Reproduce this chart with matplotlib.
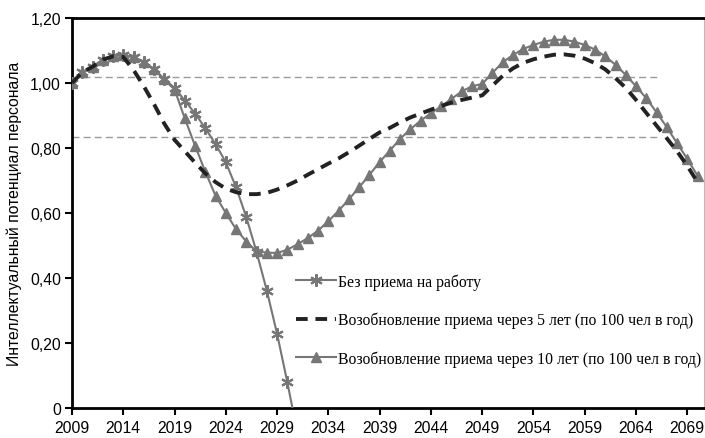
import matplotlib
matplotlib.use("Agg")
import matplotlib.pyplot as plt
from matplotlib.ticker import FuncFormatter, FixedLocator
import numpy as np

# ---- data ----
years_no_hire = list(range(2009, 2032))
no_hire = [1.00, 1.033, 1.05, 1.072, 1.082, 1.087, 1.079, 1.064, 1.043, 1.012,
           0.985, 0.946, 0.906, 0.861, 0.812, 0.756, 0.679, 0.587, 0.480, 0.361,
           0.228, 0.079, -0.08]

years = list(range(2009, 2071))
resume_5 = [1.00, 1.033, 1.05, 1.072, 1.082, 1.080, 1.040, 0.990, 0.935, 0.875,
            0.825, 0.790, 0.755, 0.722, 0.695, 0.675, 0.664, 0.658, 0.658, 0.662,
            0.672, 0.685, 0.700, 0.718, 0.735, 0.752, 0.768, 0.787, 0.807, 0.828,
            0.848, 0.862, 0.879, 0.894, 0.906, 0.918, 0.929, 0.940, 0.948, 0.955,
            0.962, 0.992, 1.022, 1.045, 1.062, 1.073, 1.081, 1.087, 1.088, 1.084,
            1.075, 1.061, 1.042, 1.015, 0.985, 0.948, 0.908, 0.869, 0.830, 0.790,
            0.745, 0.695]
resume_10 = [1.00, 1.033, 1.05, 1.072, 1.082, 1.087, 1.079, 1.064, 1.043, 1.012,
             0.980, 0.891, 0.807, 0.727, 0.653, 0.600, 0.550, 0.512, 0.482, 0.478,
             0.477, 0.487, 0.504, 0.523, 0.546, 0.575, 0.607, 0.642, 0.679, 0.717,
             0.757, 0.792, 0.828, 0.858, 0.884, 0.907, 0.928, 0.951, 0.974, 0.990,
             0.997, 1.031, 1.064, 1.086, 1.105, 1.117, 1.127, 1.133, 1.133, 1.127,
             1.117, 1.103, 1.082, 1.056, 1.025, 0.990, 0.953, 0.910, 0.864, 0.815,
             0.766, 0.715]

ref_years = [2009, 2066]
ref_upper = [1.019, 1.019]
ref_lower = [0.835, 0.835]

x_ticks = list(range(2009, 2070, 5))
y_ticks = [0, 0.2, 0.4, 0.6, 0.8, 1.0, 1.2]

labels = ["Без приема на работу",
          "Возобновление приема через 5 лет (по 100 чел в год)",
          "Возобновление приема через 10 лет (по 100 чел в год)"]
ylabel = "Интеллектуальный потенциал персонала"

# ---- plot ----
fig = plt.figure(figsize=(7.05, 4.39), dpi=100)
ax = fig.add_axes([72/705, 30/439, 632/705, 390/439])

gray = "#767676"
ax.plot(ref_years, ref_upper, color="#9a9a9a", lw=1.0, ls=(0, (5, 3)), zorder=1)
ax.plot(ref_years, ref_lower, color="#9a9a9a", lw=1.0, ls=(0, (5, 3)), zorder=1)

ax.plot(years_no_hire, no_hire, color=gray, lw=1.5, marker=(6, 2, 0),
        markersize=9, markeredgewidth=1.5, markeredgecolor=gray, label=labels[0],
        zorder=3)
ax.plot(years, resume_5, color="#222222", lw=2.8, ls=(0, (3, 2)),
        label=labels[1], zorder=4)
ax.plot(years, resume_10, color=gray, lw=1.5, marker="^", markersize=7.5,
        markerfacecolor=gray, markeredgecolor=gray, label=labels[2], zorder=2)

ax.set_xlim(2009, 2070.63)
ax.set_ylim(0, 1.2)
ax.xaxis.set_major_locator(FixedLocator(x_ticks))
ax.yaxis.set_major_locator(FixedLocator(y_ticks))
ax.yaxis.set_major_formatter(FuncFormatter(
    lambda v, p: "0" if abs(v) < 1e-9 else f"{v:.2f}".replace(".", ",")))

for lab in ax.get_xticklabels() + ax.get_yticklabels():
    lab.set_fontfamily("Liberation Sans")
ax.tick_params(axis="both", direction="out", length=5, width=1.5, color="black",
               labelsize=11.3)
ax.tick_params(axis="x", pad=4)
ax.tick_params(axis="y", pad=3)

for s in ["left", "bottom", "top"]:
    ax.spines[s].set_linewidth(2)
    ax.spines[s].set_color("black")
ax.spines["right"].set_linewidth(0.8)
ax.spines["right"].set_color("#bbbbbb")

ax.set_ylabel(ylabel, fontfamily="Liberation Sans", fontsize=11.3, labelpad=6)

leg = ax.legend(loc="upper left", bbox_to_anchor=(0.355, 0.345), frameon=False,
                prop=dict(family="Liberation Serif", size=11.3),
                handlelength=2.5, handletextpad=0.15, labelspacing=1.4,
                borderaxespad=0, borderpad=0)

fig.savefig("out.png", dpi=100)
